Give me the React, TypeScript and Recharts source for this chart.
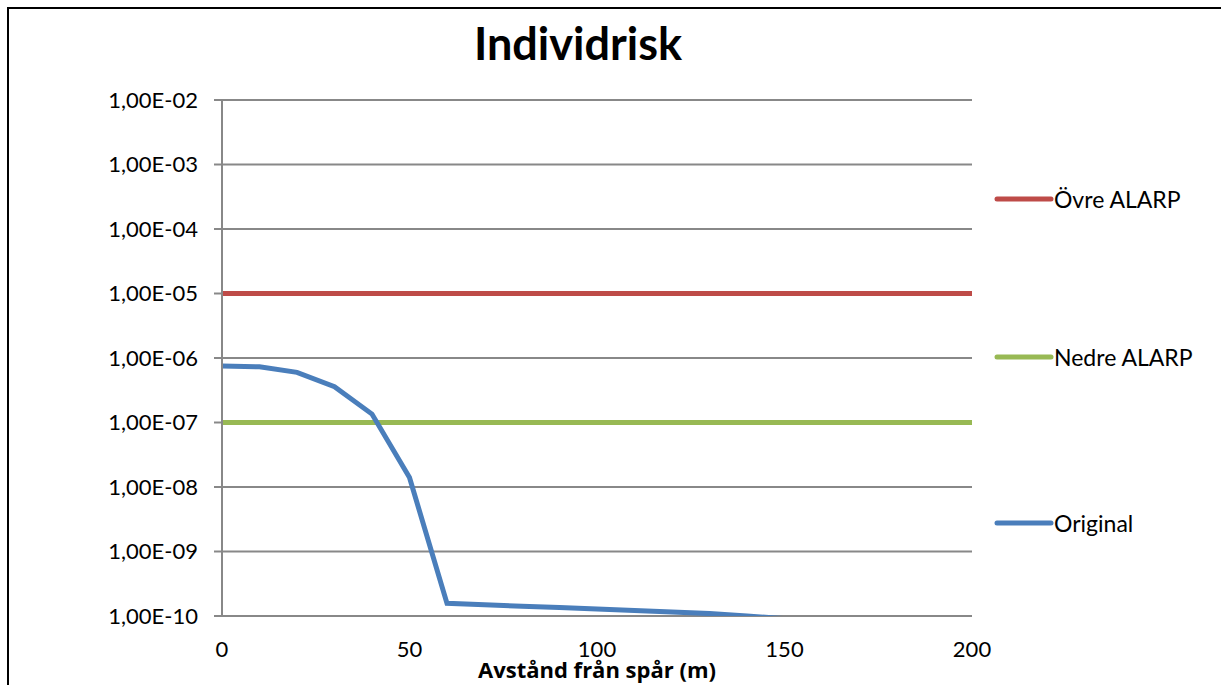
import React from 'react';
import {
  LineChart, Line, XAxis, YAxis, CartesianGrid, Legend, Label
} from 'recharts';

// Avstånd från spår (m)
const distances = [0, 10, 20, 30, 40, 50, 60, 70, 80, 90, 100, 110, 120, 130, 140, 150];
// Individrisk, original
const originalRisk = [
  7.5e-7, 7.3e-7, 6.0e-7, 3.6e-7, 1.35e-7, 1.4e-8, 1.57e-10, 1.49e-10,
  1.42e-10, 1.35e-10, 1.28e-10, 1.22e-10, 1.15e-10, 1.09e-10, 1.0e-10, 9.1e-11
];
// ALARP-gränser
const alarpX = [0, 200];
const ovreAlarp = [1e-5, 1e-5];
const nedreAlarp = [1e-7, 1e-7];

const xTicks = [0, 50, 100, 150, 200];
const yTicks = [1e-10, 1e-9, 1e-8, 1e-7, 1e-6, 1e-5, 1e-4, 1e-3, 1e-2];
const seriesNames = ['Övre ALARP', 'Nedre ALARP', 'Original'];

const originalData = distances.map((x, i) => ({ x, risk: originalRisk[i] }));
const ovreData = alarpX.map((x, i) => ({ x, risk: ovreAlarp[i] }));
const nedreData = alarpX.map((x, i) => ({ x, risk: nedreAlarp[i] }));

const FONT = 'Lato, "Open Sans", sans-serif';
const GRID = '#888888';

// 1e-7 -> "1,00E-07"
const formatSci = (v: number) => {
  const e = Math.round(Math.log10(v));
  const sign = e < 0 ? '-' : '+';
  return `1,00E${sign}${String(Math.abs(e)).padStart(2, '0')}`;
};

// legend entry vertical centres (chart box coords), same order as seriesNames
const legendCenters = [191, 349, 515];

const renderLegend = (props: any) => {
  const { payload } = props;
  return (
    <div style={{ position: 'relative', width: 235, height: 600 }}>
      {(payload || []).map((entry: any) => {
        const idx = seriesNames.indexOf(entry.value);
        return (
          <div
            key={entry.value}
            style={{
              position: 'absolute',
              left: 8,
              top: legendCenters[idx] - 15,
              height: 30,
              display: 'flex',
              alignItems: 'center',
              whiteSpace: 'nowrap',
            }}
          >
            <svg width={60} height={10} style={{ display: 'block' }}>
              <line x1={3} y1={5} x2={57} y2={5} stroke={entry.color} strokeWidth={5} strokeLinecap="round" />
            </svg>
            <span style={{ fontFamily: FONT, fontSize: 23, color: '#000' }}>{entry.value}</span>
          </div>
        );
      })}
    </div>
  );
};

export default function App() {
  return (
    <div style={{ position: 'fixed', left: 0, top: 0, width: 1221, height: 685, overflow: 'hidden', background: '#fff' }}>
      {/* outer chart frame */}
      <div
        style={{
          position: 'absolute', left: 7, top: 7, width: 1220, height: 690,
          borderLeft: '2px solid #000', borderTop: '2px solid #000', boxSizing: 'border-box',
        }}
      />
      <div
        style={{
          position: 'absolute', left: 378, top: 16, width: 400, textAlign: 'center',
          fontFamily: FONT, fontWeight: 700, fontSize: 45, lineHeight: 'normal', color: '#000',
        }}
      >
        Individrisk
      </div>
      <div style={{ position: 'absolute', left: 8, top: 8 }}>
        <LineChart
          width={1213}
          height={677}
          margin={{ top: 92, right: 14, bottom: 0, left: 0 }}
        >
          <CartesianGrid vertical={false} stroke={GRID} strokeWidth={2} horizontalValues={yTicks} />
          <XAxis
            dataKey="x"
            type="number"
            domain={[0, 200]}
            ticks={xTicks}
            allowDuplicatedCategory={false}
            axisLine={false}
            tickLine={false}
            tickSize={0}
            tickMargin={25}
            height={69}
            interval={0}
            tick={{ fontFamily: FONT, fontSize: 22, fill: '#000' }}
          >
            <Label
              value="Avstånd från spår (m)"
              position="insideBottom"
              offset={7}
              style={{ fontFamily: '"Open Sans", sans-serif', fontSize: 22, fontWeight: 700, fill: '#000' }}
            />
          </XAxis>
          <XAxis
            xAxisId="top"
            orientation="top"
            type="number"
            domain={[0, 200]}
            ticks={xTicks}
            height={0}
            mirror
            axisLine={false}
            tickSize={8}
            tickLine={{ stroke: GRID, strokeWidth: 2 }}
            tickFormatter={() => ''}
          />
          <YAxis
            scale="log"
            domain={[1e-10, 1e-2]}
            allowDataOverflow
            ticks={yTicks}
            interval={0}
            width={214}
            tickSize={8}
            tickMargin={16}
            tickFormatter={formatSci}
            axisLine={{ stroke: GRID, strokeWidth: 2 }}
            tickLine={{ stroke: GRID, strokeWidth: 2 }}
            tick={{ fontFamily: FONT, fontSize: 22, fill: '#000' }}
          />
          <Legend
            layout="vertical"
            align="right"
            verticalAlign="top"
            content={renderLegend}
            wrapperStyle={{ left: 978, top: 0, width: 235, height: 600 }}
          />
          <Line
            data={ovreData}
            dataKey="risk"
            name="Övre ALARP"
            stroke="#be4b48"
            strokeWidth={5}
            dot={false}
            activeDot={false}
            isAnimationActive={false}
          />
          <Line
            data={nedreData}
            dataKey="risk"
            name="Nedre ALARP"
            stroke="#98b954"
            strokeWidth={5}
            dot={false}
            activeDot={false}
            isAnimationActive={false}
          />
          <Line
            data={originalData}
            dataKey="risk"
            name="Original"
            stroke="#4a7ebb"
            strokeWidth={5}
            dot={false}
            activeDot={false}
            isAnimationActive={false}
          />
        </LineChart>
      </div>
    </div>
  );
}
